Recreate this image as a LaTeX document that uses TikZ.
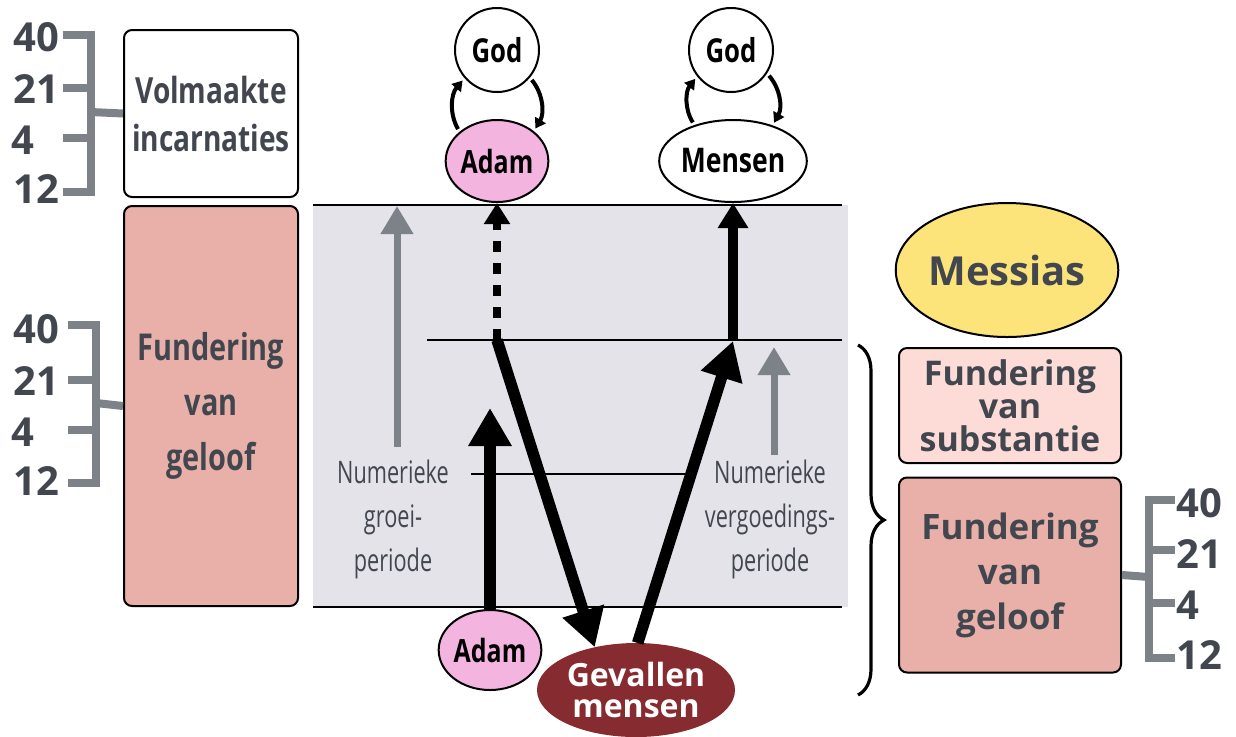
\documentclass[tikz,border=0pt]{standalone}
\usepackage{fontspec}
\setmainfont{Open Sans}
\newfontfamily\condfont[FakeStretch=0.78]{Open Sans}
\newfontfamily\narrowfont[FakeStretch=0.7]{Open Sans}
\usetikzlibrary{arrows.meta,shapes.geometric,decorations.pathreplacing}

\definecolor{labelgray}{HTML}{41464F}
\definecolor{bracketgray}{HTML}{7C8288}
\definecolor{panelgray}{HTML}{E4E3EA}
\definecolor{rosefill}{HTML}{E8B0A8}
\definecolor{lightrose}{HTML}{FDDBD6}
\definecolor{adampink}{HTML}{F4B4E0}
\definecolor{fallenred}{HTML}{862B30}
\definecolor{messiasyellow}{HTML}{FDE47A}

\tikzset{
  box/.style={draw, rounded corners=4pt, line width=1pt, align=center, text=labelgray, inner sep=0pt},
  blob/.style={draw, ellipse, line width=1pt, inner sep=0pt, align=center},
  num/.style={font=\fontsize{20}{20}\selectfont\bfseries, text=labelgray, inner sep=0pt},
  bracket/.style={draw=bracketgray, line width=4pt},
  grayarrow/.style={draw=bracketgray, line width=3.5pt, -{Triangle[length=14pt, width=15.5pt]}},
  fatarrow/.style={line width=5.75pt, -{Triangle[length=19pt, width=20.5pt]}},
  curl/.style={line width=2pt, shorten <=1.5pt, shorten >=1.5pt, -{Triangle[length=5pt, width=6pt]}},
  period/.style={align=center, text=labelgray, font=\narrowfont\fontsize{15.5}{22}\selectfont}
}

\begin{document}
\begin{tikzpicture}[x=0.5pt, y=-0.5pt]
    \useasboundingbox (0,0) rectangle (1236,736);

    % middle field
    \fill[panelgray] (313,205) rectangle (848,607);
    \draw[line width=1.3pt] (313,205) -- (842,205);
    \draw[line width=1.3pt] (313,607) -- (842,607);
    \draw[line width=1.1pt] (427,340) -- (842,340);
    \draw[line width=0.8pt] (471,474) -- (688,474);

    % left column
    \node[box, fill=white, minimum width=87pt, minimum height=83.5pt,
          font=\condfont\bfseries\fontsize{18}{24}\selectfont] (volmaakt) at (211,113.5) {Volmaakte\\incarnaties};
    \node[box, fill=rosefill, minimum width=87pt, minimum height=200pt,
          font=\condfont\bfseries\fontsize{18.5}{27.5}\selectfont] (geloofL) at (211,406) {Fundering\\van\\geloof};

    \node[num, anchor=east] (a40) at (60,37.5) {40};
    \node[num, anchor=east] (a21) at (60,89) {21};
    \node[num, anchor=west] (a4) at (11,140) {4};
    \node[num, anchor=east] (a12) at (60,189) {12};
    \draw[bracket] (63,35) -| (91,192) -- (63,192);
    \draw[bracket] (63,88) -- (91,88) (63,138) -- (91,138);
    \draw[bracket] (91,112) -- (volmaakt.west);

    \node[num, anchor=east] (b40) at (60,329) {40};
    \node[num, anchor=east] (b21) at (60,381) {21};
    \node[num, anchor=west] (b4) at (11,432) {4};
    \node[num, anchor=east] (b12) at (60,481) {12};
    \draw[bracket] (68,325) -| (96,483) -- (68,483);
    \draw[bracket] (68,380) -- (96,380) (68,430) -- (96,430);
    \draw[bracket] (96,403) -- (geloofL.west);

    % top: God and man
    \node[blob, fill=white, minimum width=42pt, minimum height=42pt,
          font=\condfont\bfseries\fontsize{16.5}{16.5}\selectfont] (godL) at (497,50) {God};
    \node[blob, fill=adampink, minimum width=44pt, minimum height=41pt,
          font=\condfont\bfseries\fontsize{16}{16}\selectfont] (adamT) at (497,161) {Adam};
    \node[blob, fill=white, minimum width=42pt, minimum height=42pt,
          font=\condfont\bfseries\fontsize{16.5}{16.5}\selectfont] (godR) at (731,50) {God};
    \node[blob, fill=white, minimum width=65pt, minimum height=41pt,
          font=\condfont\bfseries\fontsize{17}{17}\selectfont] (mensen) at (733,161) {Mensen};

    \draw[curl] (adamT.142) to[bend left=35] (godL.221);
    \draw[curl] (godL.320) to[bend left=35] (adamT.39);
    \draw[curl] (mensen.137) to[bend left=35] (godR.218);
    \draw[curl] (godR.327) to[bend left=35] (mensen.42);

    % bottom
    \node[blob, fill=adampink, minimum width=44pt, minimum height=40pt,
          font=\condfont\bfseries\fontsize{16}{16}\selectfont] (adamB) at (490,650) {Adam};
    \node[blob, draw=fallenred, fill=fallenred, text=white, minimum width=98pt, minimum height=46pt,
          font=\bfseries\fontsize{16}{15.5}\selectfont] (gevallen) at (636,690) {Gevallen\\mensen};

    \coordinate (groei) at (490,408);
    \coordinate (val) at (497,340);
    \coordinate (herstel) at (733,341);
    \draw[fatarrow] (adamB.north) -- (groei);
    \draw[line width=3.75pt, dash pattern=on 5.5pt off 5.5pt,
          -{Triangle[length=10.5pt, width=12.5pt]}] (val) -- (adamT.south);
    \draw[fatarrow] (val) -- (gevallen.134);
    \draw[fatarrow] (gevallen.88) -- (herstel);
    \draw[line width=5pt, -{Triangle[length=12.5pt, width=14.5pt]}] (herstel) -- (mensen.south);

    % numerical periods
    \coordinate (groeiB) at (397,447);
    \coordinate (groeiT) at (397,206);
    \coordinate (vergB) at (774,455);
    \coordinate (vergT) at (774,347);
    \draw[grayarrow] (groeiB) -- (groeiT);
    \draw[grayarrow] (vergB) -- (vergT);
    \node[period] (groeitxt) at (393,519) {Numerieke\\groei-\\periode};
    \node[period] (vergtxt) at (770,519) {Numerieke\\vergoedings-\\periode};

    % right column
    \node[blob, fill=messiasyellow, minimum width=108pt, minimum height=67pt, text=labelgray,
          font=\bfseries\fontsize{20}{20}\selectfont] (messias) at (1007,270) {Messias};
    \draw[line width=1.6pt, decorate, decoration={brace, amplitude=13pt}] (858,345) -- (858,695);
    \node[box, fill=lightrose, minimum width=111pt, minimum height=57.5pt,
          font=\bfseries\fontsize{17}{16.5}\selectfont] (substantie) at (1010,405.5) {Fundering\\van\\substantie};
    \node[box, fill=rosefill, minimum width=111pt, minimum height=97.5pt,
          font=\bfseries\fontsize{17.5}{22.5}\selectfont] (geloofR) at (1010,575) {Fundering\\van\\geloof};

    \node[num, anchor=west] (c40) at (1176,503) {40};
    \node[num, anchor=west] (c21) at (1176,554) {21};
    \node[num, anchor=west] (c4) at (1176,605) {4};
    \node[num, anchor=west] (c12) at (1176,655) {12};
    \draw[bracket] (1175,500) -| (1149,658) -- (1175,658);
    \draw[bracket] (1149,550) -- (1175,550) (1149,603) -- (1175,603);
    \draw[bracket] (geloofR.east) -- (1149,577);
\end{tikzpicture}
\end{document}
